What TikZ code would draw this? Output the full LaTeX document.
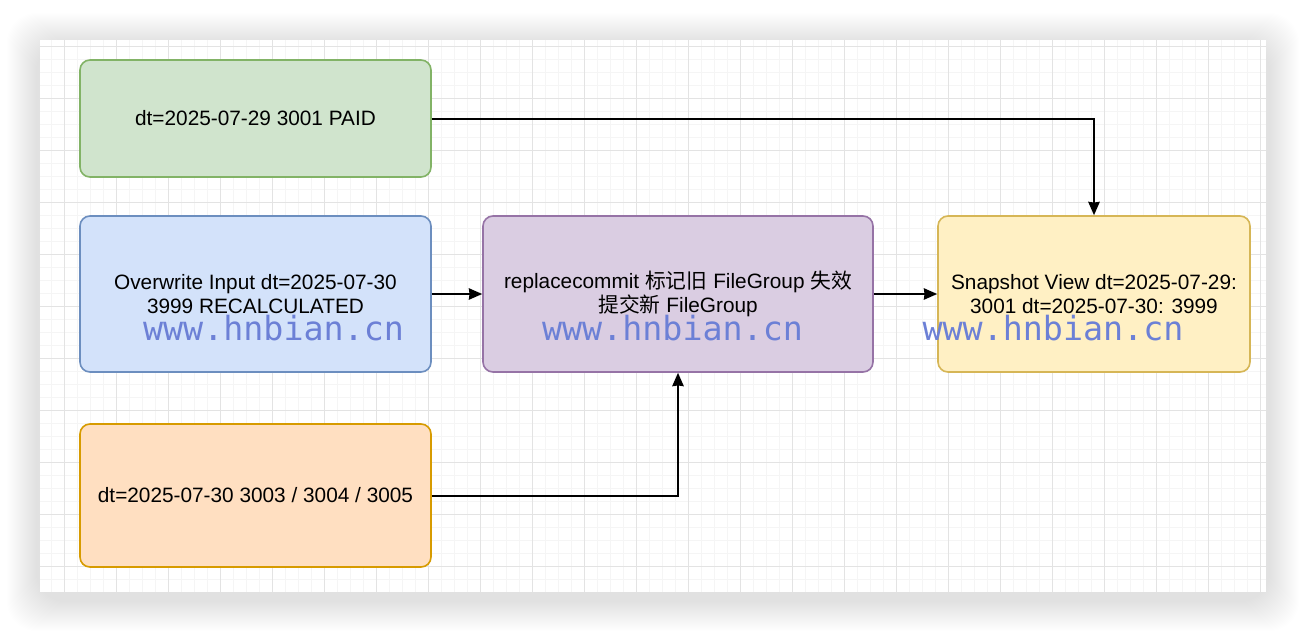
\documentclass[tikz,border=0pt]{standalone}
\usepackage{fontspec}
\setmainfont{Liberation Sans}
\newfontfamily\cjkfont{Noto Sans CJK SC}
\newfontfamily\markfont{DejaVu Sans Mono}
\usetikzlibrary{arrows.meta}
\definecolor{greenfill}{HTML}{D0E4CD}\definecolor{greenline}{HTML}{82B366}
\definecolor{bluefill}{HTML}{D3E2FA}\definecolor{blueline}{HTML}{6C8EBF}
\definecolor{orangefill}{HTML}{FFDFC1}\definecolor{orangeline}{HTML}{D79B00}
\definecolor{purplefill}{HTML}{DACDE2}\definecolor{purpleline}{HTML}{9673A6}
\definecolor{yellowfill}{HTML}{FFF0C4}\definecolor{yellowline}{HTML}{D6B656}
\definecolor{markblue}{RGB}{108,128,214}
\tikzset{
  box/.style={draw, rounded corners=7.5pt, line width=1.2pt, align=center,
    font=\fontsize{15.6}{18.5}\selectfont, inner sep=2pt},
  flow/.style={-{Stealth[length=10pt, width=8.5pt, inset=0.5pt]}, line width=1.5pt}
}
\begin{document}
\begin{tikzpicture}[x=0.75pt, y=-0.75pt]
  \useasboundingbox (0,0) rectangle (1306,632);
  % soft shadow round the canvas
  \foreach \s in {1,...,30}
    \fill[black, opacity=0.0035, rounded corners=22pt] (40-34+\s,40-28+\s) rectangle (1266+34-\s,592+40-\s);
  % canvas with grid
  \fill[white] (40,40) rectangle (1266,592);
  \foreach \x in {51.7,64.7,...,1266} \draw[black!4, line width=0.75pt] (\x,40) -- (\x,592);
  \foreach \y in {46.3,59.3,...,592} \draw[black!4, line width=0.75pt] (40,\y) -- (1266,\y);
  \foreach \x in {64.7,116.7,...,1266} \draw[black!11, line width=0.75pt] (\x,40) -- (\x,592);
  \foreach \y in {46.3,98.3,...,592} \draw[black!11, line width=0.75pt] (40,\y) -- (1266,\y);

  \node[box, fill=greenfill, draw=greenline, minimum width=263.25pt, minimum height=87.75pt]
    (paid) at (255.5,118.5) {dt=2025-07-29 3001 PAID};
  \node[box, fill=bluefill, draw=blueline, minimum width=263.25pt, minimum height=117pt]
    (overwrite) at (255.5,294) {Overwrite Input dt=2025-07-30\\3999 RECALCULATED};
  \node[box, fill=orangefill, draw=orangeline, minimum width=263.25pt, minimum height=107.25pt]
    (others) at (255.5,495.5) {dt=2025-07-30 3003 / 3004 / 3005};
  \node[box, fill=purplefill, draw=purpleline, minimum width=292.5pt, minimum height=117pt]
    (replace) at (678,294) {replacecommit {\cjkfont 标记旧} FileGroup {\cjkfont 失效}\\{\cjkfont 提交新} FileGroup};
  \node[box, fill=yellowfill, draw=yellowline, minimum width=234pt, minimum height=117pt]
    (snapshot) at (1094,294) {Snapshot View dt=2025-07-29:\\3001 dt=2025-07-30: 3999};

  \draw[flow] (paid.east) -| (snapshot.north);
  \draw[flow] (overwrite.east) -- (replace.west);
  \draw[flow] (replace.east) -- (snapshot.west);
  \draw[flow] (others.east) -| (replace.south);

  % watermark
  \foreach \wx/\wn in {273.5/wmleft, 672.5/wmmid, 1053/wmright}
    \node[text=markblue, font=\markfont\fontsize{25}{26}\selectfont, inner sep=0pt] (\wn) at (\wx,328) {www.hnbian.cn};
\end{tikzpicture}
\end{document}
